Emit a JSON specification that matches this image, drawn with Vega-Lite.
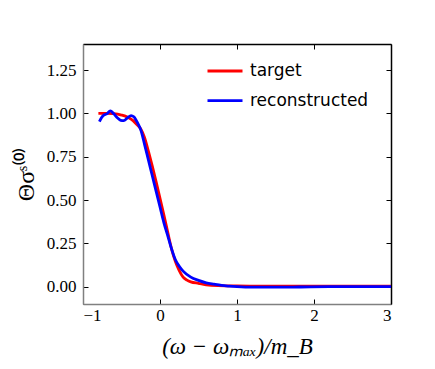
{
  "$schema": "https://vega.github.io/schema/vega-lite/v6.json",
  "width": 308,
  "height": 260,
  "autosize": {"type": "none"},
  "padding": {"left": 83, "top": 44, "right": 44, "bottom": 65},
  "background": "white",
  "config": {
    "view": {"stroke": null},
    "axis": {
      "grid": false,
      "tickSize": -5,
      "tickColor": "black",
      "tickWidth": 1,
      "domainWidth": 1.5,
      "labelFont": "Liberation Serif",
      "labelFontSize": 17,
      "labelColor": "black",
      "titleFont": "Liberation Serif",
      "titleFontWeight": "normal",
      "titleColor": "black"
    }
  },
  "data": {
    "values": [
      {"x": -0.8, "y": 1.0, "s": "target"},
      {"x": -0.7, "y": 1.0, "s": "target"},
      {"x": -0.6, "y": 0.998, "s": "target"},
      {"x": -0.5, "y": 0.99, "s": "target"},
      {"x": -0.42, "y": 0.978, "s": "target"},
      {"x": -0.35, "y": 0.958, "s": "target"},
      {"x": -0.3, "y": 0.935, "s": "target"},
      {"x": -0.25, "y": 0.91, "s": "target"},
      {"x": -0.2, "y": 0.86, "s": "target"},
      {"x": -0.15, "y": 0.78, "s": "target"},
      {"x": -0.1, "y": 0.695, "s": "target"},
      {"x": -0.05, "y": 0.605, "s": "target"},
      {"x": 0.0, "y": 0.51, "s": "target"},
      {"x": 0.05, "y": 0.415, "s": "target"},
      {"x": 0.1, "y": 0.315, "s": "target"},
      {"x": 0.15, "y": 0.218, "s": "target"},
      {"x": 0.2, "y": 0.145, "s": "target"},
      {"x": 0.25, "y": 0.093, "s": "target"},
      {"x": 0.3, "y": 0.055, "s": "target"},
      {"x": 0.35, "y": 0.038, "s": "target"},
      {"x": 0.4, "y": 0.028, "s": "target"},
      {"x": 0.5, "y": 0.019, "s": "target"},
      {"x": 0.6, "y": 0.011, "s": "target"},
      {"x": 0.75, "y": 0.006, "s": "target"},
      {"x": 1.0, "y": 0.004, "s": "target"},
      {"x": 1.5, "y": 0.003, "s": "target"},
      {"x": 3.0, "y": 0.003, "s": "target"},
      {"x": -0.787, "y": 0.952, "s": "reconstructed"},
      {"x": -0.76, "y": 0.975, "s": "reconstructed"},
      {"x": -0.73, "y": 0.99, "s": "reconstructed"},
      {"x": -0.69, "y": 0.997, "s": "reconstructed"},
      {"x": -0.645, "y": 1.014, "s": "reconstructed"},
      {"x": -0.6, "y": 0.997, "s": "reconstructed"},
      {"x": -0.55, "y": 0.973, "s": "reconstructed"},
      {"x": -0.51, "y": 0.96, "s": "reconstructed"},
      {"x": -0.472, "y": 0.958, "s": "reconstructed"},
      {"x": -0.42, "y": 0.975, "s": "reconstructed"},
      {"x": -0.376, "y": 0.987, "s": "reconstructed"},
      {"x": -0.34, "y": 0.98, "s": "reconstructed"},
      {"x": -0.31, "y": 0.96, "s": "reconstructed"},
      {"x": -0.28, "y": 0.935, "s": "reconstructed"},
      {"x": -0.25, "y": 0.905, "s": "reconstructed"},
      {"x": -0.2, "y": 0.82, "s": "reconstructed"},
      {"x": -0.15, "y": 0.73, "s": "reconstructed"},
      {"x": -0.1, "y": 0.64, "s": "reconstructed"},
      {"x": -0.05, "y": 0.55, "s": "reconstructed"},
      {"x": 0.0, "y": 0.46, "s": "reconstructed"},
      {"x": 0.05, "y": 0.37, "s": "reconstructed"},
      {"x": 0.1, "y": 0.295, "s": "reconstructed"},
      {"x": 0.15, "y": 0.218, "s": "reconstructed"},
      {"x": 0.2, "y": 0.155, "s": "reconstructed"},
      {"x": 0.25, "y": 0.118, "s": "reconstructed"},
      {"x": 0.3, "y": 0.09, "s": "reconstructed"},
      {"x": 0.4, "y": 0.055, "s": "reconstructed"},
      {"x": 0.5, "y": 0.036, "s": "reconstructed"},
      {"x": 0.6, "y": 0.022, "s": "reconstructed"},
      {"x": 0.7, "y": 0.014, "s": "reconstructed"},
      {"x": 0.8, "y": 0.007, "s": "reconstructed"},
      {"x": 0.9, "y": 0.003, "s": "reconstructed"},
      {"x": 1.0, "y": 0.0, "s": "reconstructed"},
      {"x": 1.2, "y": -0.003, "s": "reconstructed"},
      {"x": 1.5, "y": -0.003, "s": "reconstructed"},
      {"x": 1.8, "y": -0.002, "s": "reconstructed"},
      {"x": 2.2, "y": 0.0, "s": "reconstructed"},
      {"x": 3.0, "y": 0.0, "s": "reconstructed"}
    ]
  },
  "layer": [
    {
      "mark": {"type": "line", "strokeWidth": 2.8, "interpolate": "monotone"},
      "encoding": {
        "x": {
          "field": "x", "type": "quantitative",
          "scale": {"domain": [-1, 3], "nice": false, "zero": false},
          "axis": {"orient": "bottom", "values": [-1, 0, 1, 2, 3], "format": "d", "labelPadding": 8, "domainColor": "#808080",
                   "title": "(ω − ωₘₐₓ)/m_B", "titleFontSize": 23, "titleFontStyle": "italic", "titlePadding": 12}
        },
        "y": {
          "field": "y", "type": "quantitative",
          "scale": {"domain": [-0.1, 1.4], "nice": false, "zero": false},
          "axis": {"orient": "left", "values": [0, 0.25, 0.5, 0.75, 1.0, 1.25], "format": ".2f", "labelPadding": 12, "domainColor": "#808080",
                   "title": "Θσˢ⁽⁰⁾", "titleFontSize": 24, "titlePadding": 8}
        },
        "color": {
          "field": "s", "type": "nominal",
          "scale": {"domain": ["target", "reconstructed"], "range": ["#ff0000", "#0000ff"]},
          "legend": {"orient": "none", "legendX": 123, "legendY": 8, "title": null, "symbolType": "stroke", "symbolSize": 1225,
                     "symbolStrokeWidth": 2.8, "labelFont": "DejaVu Sans", "labelFontSize": 17, "labelColor": "black",
                     "labelOffset": 6, "rowPadding": 2.7, "padding": 0}
        }
      }
    },
    {
      "mark": {"type": "line", "opacity": 0},
      "encoding": {
        "x": {"field": "x", "type": "quantitative",
              "axis": {"orient": "top", "values": [-1, 0, 1, 2, 3], "labels": false, "title": null, "domainColor": "black"}},
        "y": {"field": "y", "type": "quantitative",
              "axis": {"orient": "right", "values": [0, 0.25, 0.5, 0.75, 1.0, 1.25], "labels": false, "title": null, "domainColor": "black"}}
      }
    }
  ],
  "resolve": {"axis": {"x": "independent", "y": "independent"}}
}
